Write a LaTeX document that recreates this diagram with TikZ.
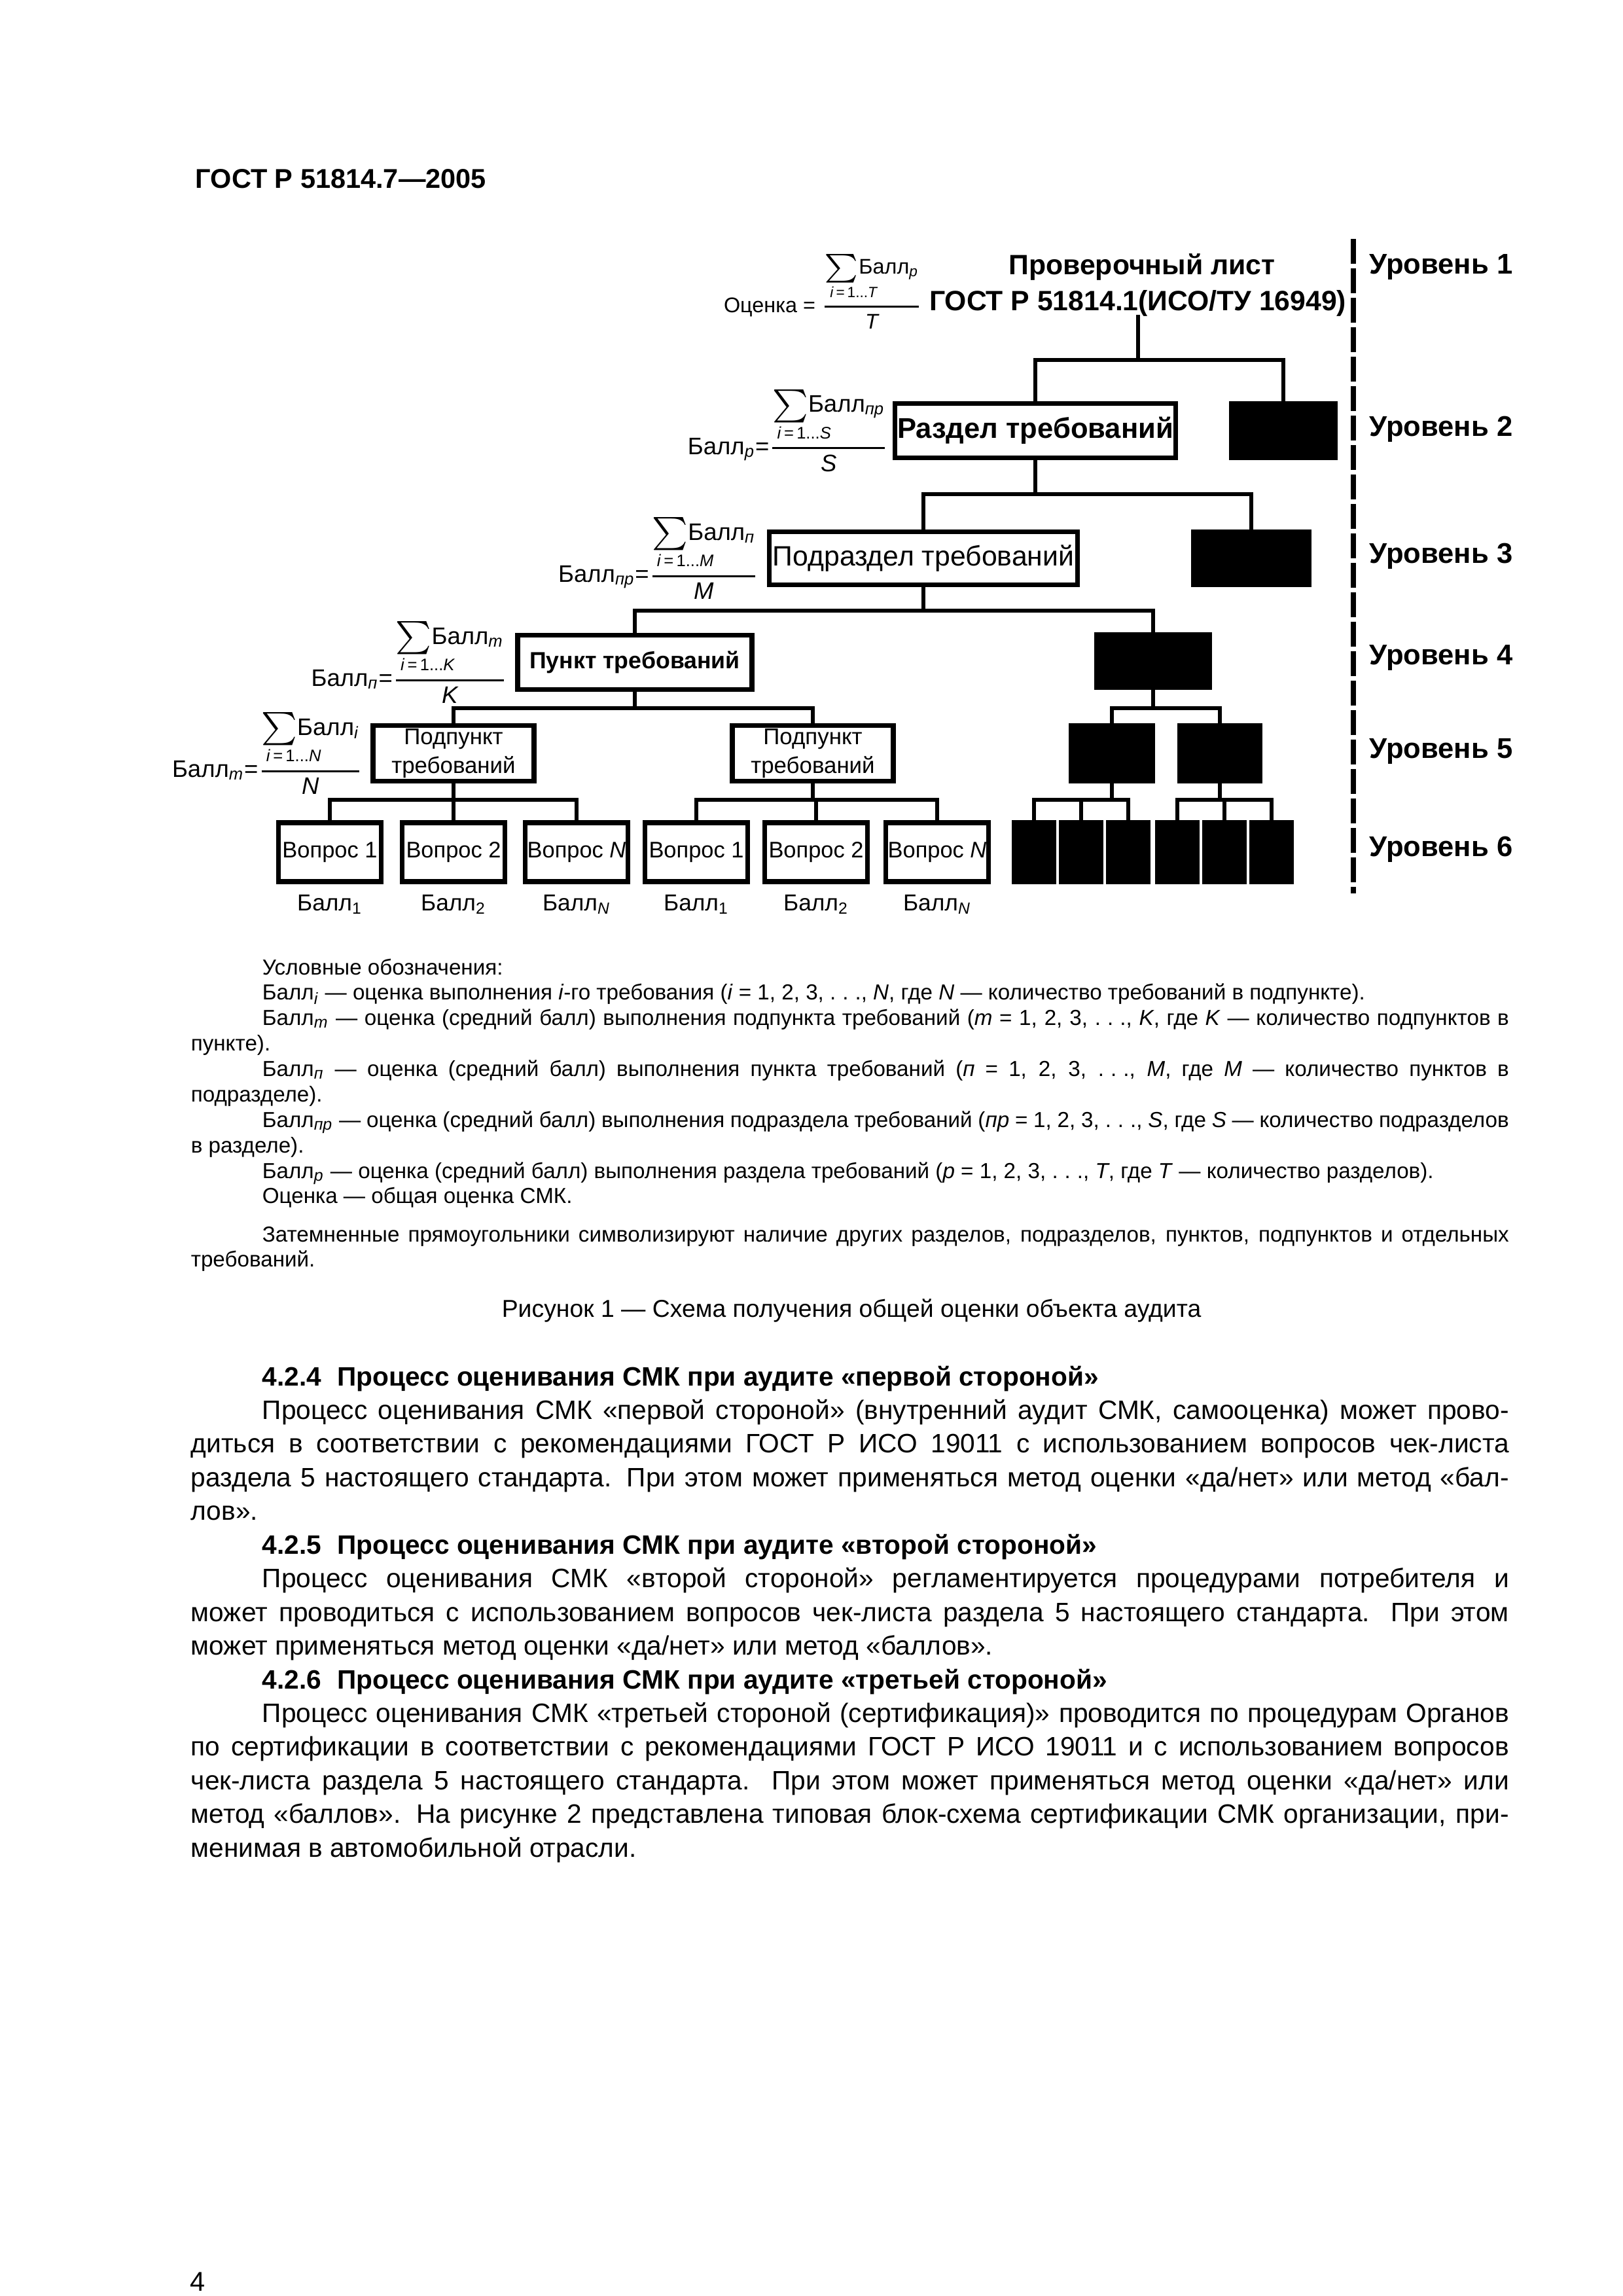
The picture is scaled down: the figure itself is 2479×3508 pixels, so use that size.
\documentclass[tikz,border=0pt]{standalone}
\usepackage{fontspec}
\setmainfont{Liberation Sans}
\usepackage{mathtools}
\usepackage{graphicx}
\usetikzlibrary{positioning}

\newlength\pxu
\setlength\pxu{0.08471mm}
\newlength\indw
\setlength\indw{109\pxu}
\hyphenpenalty=10000
\exhyphenpenalty=10000
\tolerance=9999

\newcommand{\ddd}{.\hspace{0.3em}.\hspace{0.3em}.}
\newcommand{\bigsig}{\mathop{\vcenter{\hbox{\scalebox{1.35}{$\textstyle\sum$}}}}}
% sum over i divided by count
\newcommand{\sumfrac}[3]{\(\genfrac{}{}{0.7pt}{0}{{\bigsig\limits_{\mathrlap{\hspace{-0.55em}\text{\itshape i\/\upshape\,=\,1...\itshape #2}}}}\text{Балл}_{\text{\itshape #1}}}{\text{\itshape #3}}\)}

\tikzset{
  lbl/.style={inner sep=0pt},
  hd/.style={inner sep=0pt, font=\fontsize{10.3}{12}\selectfont\bfseries},
  wbox/.style={rectangle, draw, line width=0.6mm, fill=white, align=center, inner sep=0pt},
  bbox/.style={rectangle, draw, fill=black, line width=0.6mm, inner sep=0pt},
  conn/.style={line width=0.5mm, line cap=rect},
  lvl/.style={anchor=west, inner sep=0pt, font=\fontsize{10.5}{12}\selectfont\bfseries},
  frm/.style={inner sep=0pt, font=\fontsize{8.8}{10.5}\selectfont},
  ball/.style={inner sep=0pt, font=\fontsize{8.5}{10}\selectfont},
  qbox/.style={wbox, minimum width=157\pxu, minimum height=90\pxu, font=\fontsize{8.3}{10}\selectfont},
  kbox/.style={bbox, minimum width=60\pxu, minimum height=90\pxu},
  dline/.style={line width=0.6mm, dash pattern=on 38\pxu off 7\pxu},
  txt/.style={anchor=base west, inner sep=0pt, text width=2014\pxu, align=justify},
}

\begin{document}
\begin{tikzpicture}[x=0.08471mm, y=-0.08471mm]
  \path[use as bounding box, fill=white] (0,0) rectangle (2479,3508);

  \node[lbl, anchor=west, font=\fontsize{10}{12}\selectfont\bfseries] (hdr) at (298,273) {ГОСТ Р 51814.7—2005};

  % tree
  \node[hd] (chk1) at (1745,408) {Проверочный лист};
  \node[hd, anchor=east] (chk2) at (2058,463) {ГОСТ Р 51814.1(ИСО/ТУ 16949)};
  \node[frm, font=\fontsize{7.8}{9}\selectfont, left=0.8mm of chk2, yshift=1.5mm] (f1) {Оценка = \sumfrac{р}{T}{T}};

  \node[wbox, minimum width=429\pxu, minimum height=83\pxu, font=\fontsize{10.5}{12}\selectfont\bfseries] (sec) at (1582,658) {Раздел требований};
  \node[bbox, minimum width=159\pxu, minimum height=83\pxu] (sec2) at (1961,658) {};
  \node[frm, left=0.5mm of sec] (f2) {\(\text{Балл}_{\text{\itshape р}}\)=\sumfrac{пр}{S}{S}};

  \node[wbox, minimum width=471\pxu, minimum height=81\pxu, font=\fontsize{10.3}{12}\selectfont] (sub) at (1411,853) {Подраздел требований};
  \node[bbox, minimum width=177\pxu, minimum height=81\pxu] (sub2) at (1912,853) {};
  \node[frm, left=1mm of sub] (f3) {\(\text{Балл}_{\text{\itshape пр}}\)=\sumfrac{п}{M}{M}};

  \node[wbox, minimum width=358\pxu, minimum height=83\pxu, font=\fontsize{8.6}{10}\selectfont\bfseries] (pnt) at (970,1012) {Пункт требований};
  \node[bbox, minimum width=173\pxu, minimum height=81\pxu] (pnt2) at (1762,1010) {};
  \node[frm, left=1mm of pnt] (f4) {\(\text{Балл}_{\text{\itshape п}}\)=\sumfrac{m}{K}{K}};

  \node[wbox, minimum width=246\pxu, minimum height=85\pxu, font=\fontsize{8.4}{10.5}\selectfont] (spa) at (693,1151) {Подпункт\\требований};
  \node[wbox, minimum width=246\pxu, minimum height=85\pxu, font=\fontsize{8.4}{10.5}\selectfont] (spb) at (1242,1151) {Подпункт\\требований};
  \node[bbox, minimum width=124\pxu, minimum height=85\pxu] (spc) at (1699,1151) {};
  \node[bbox, minimum width=123\pxu, minimum height=85\pxu] (spd) at (1864,1151) {};
  \node[frm, left=1mm of spa] (f5) {\(\text{Балл}_{\text{\itshape m}}\)=\sumfrac{i}{N}{N}};

  \node[qbox] (q1) at (504,1302) {Вопрос 1};
  \node[qbox] (q2) at (693,1302) {Вопрос 2};
  \node[qbox] (q3) at (881,1302) {Вопрос \textit{N}};
  \node[qbox] (q4) at (1064,1302) {Вопрос 1};
  \node[qbox] (q5) at (1247,1302) {Вопрос 2};
  \node[qbox] (q6) at (1432,1302) {Вопрос \textit{N}};
  \foreach \k/\x in {1/1580,2/1652,3/1724,4/1799,5/1871,6/1943}
    \node[kbox] (k\k) at (\x,1302) {};

  \node[ball, below=1.3mm of q1] (b1) {Балл\textsubscript{1}};
  \node[ball, below=1.3mm of q2] (b2) {Балл\textsubscript{2}};
  \node[ball, below=1.3mm of q3] (b3) {Балл\textsubscript{\itshape N}};
  \node[ball, below=1.3mm of q4] (b4) {Балл\textsubscript{1}};
  \node[ball, below=1.3mm of q5] (b5) {Балл\textsubscript{2}};
  \node[ball, below=1.3mm of q6] (b6) {Балл\textsubscript{\itshape N}};

  \coordinate (y1) at (0,550);
  \coordinate (y2) at (0,755);
  \coordinate (y3) at (0,933);
  \coordinate (y4) at (0,1082);
  \coordinate (y5) at (0,1222);

  \draw[conn] (chk2.south) -- (chk2.south |- y1);
  \draw[conn] (sec.north) |- (sec2.north |- y1) -- (sec2.north);
  \draw[conn] (sec.south) -- (sec.south |- y2);
  \draw[conn] (sub.north) |- (sub2.north |- y2) -- (sub2.north);
  \draw[conn] (sub.south) -- (sub.south |- y3);
  \draw[conn] (pnt.north) |- (pnt2.north |- y3) -- (pnt2.north);
  \draw[conn] (pnt.south) -- (pnt.south |- y4);
  \draw[conn] (spa.north) |- (spb.north |- y4) -- (spb.north);
  \draw[conn] (pnt2.south) -- (pnt2.south |- y4);
  \draw[conn] (spc.north) |- (spd.north |- y4) -- (spd.north);
  \foreach \p/\a/\b/\c in {spa/q1/q2/q3, spb/q4/q5/q6, spc/k1/k2/k3, spd/k4/k5/k6} {
    \draw[conn] (\p.south) -- (\p.south |- y5);
    \draw[conn] (\a.north) |- (\c.north |- y5) -- (\c.north);
    \draw[conn] (\b.north) -- (\b.north |- y5);
  }

  % levels
  \coordinate (dtop) at (2068,365);
  \coordinate (dbot) at (2068,1365);
  \draw[dline] (dtop) -- (dbot);
  \foreach \n/\y in {1/408,2/656,3/850,4/1005,5/1148,6/1298}
    \node[lvl] (lev\n) at (2092,\y) {Уровень \n};

  % legend
  \node[txt, font=\fontsize{8}{9.37}\selectfont] (leg) at (291,1489) {%
    \hspace*{\indw}Условные обозначения:\par
    \hspace*{\indw}Балл\textsubscript{\itshape i} — оценка выполнения \textit{i}-го требования (\textit{i} = 1, 2, 3, \ddd, \textit{N}, где \textit{N} — количество требований в подпункте).\par
    \hspace*{\indw}Балл\textsubscript{\itshape m} — оценка (средний балл) выполнения подпункта требований (\textit{m} = 1, 2, 3, \ddd, \textit{K}, где \textit{K} — количество подпунктов в\linebreak пункте).\par
    \hspace*{\indw}Балл\textsubscript{\itshape п} — оценка (средний балл) выполнения пункта требований (\textit{п} = 1, 2, 3, \ddd, \textit{M}, где \textit{M} — количество пунктов в\linebreak подразделе).\par
    \hspace*{\indw}Балл\textsubscript{\itshape пр} — оценка (средний балл) выполнения подраздела требований (\textit{пр} = 1, 2, 3, \ddd, \textit{S}, где \textit{S} — количество подразделов\linebreak в разделе).\par
    \hspace*{\indw}Балл\textsubscript{\itshape р} — оценка (средний балл) выполнения раздела требований (\textit{р} = 1, 2, 3, \ddd, \textit{T}, где \textit{T} — количество разделов).\par
    \hspace*{\indw}Оценка — общая оценка СМК.};
  \node[txt, font=\fontsize{8}{9.37}\selectfont] (shd) at (291,1897) {%
    \hspace*{\indw}Затемненные прямоугольники символизируют наличие других разделов, подразделов, пунктов, подпунктов и отдельных\linebreak требований.};
  \node[lbl, anchor=base, font=\fontsize{9}{11}\selectfont] (cap) at (1301,2012) {Рисунок 1 — Схема получения общей оценки объекта аудита};

  % body text
  \node[txt, font=\fontsize{9.8}{12.4}\selectfont] (body) at (291,2117) {%
    \hspace*{\indw}{\bfseries 4.2.4\hspace{0.6em}Процесс оценивания СМК при аудите «первой стороной»}\par
    \hspace*{\indw}Процесс оценивания СМК «первой стороной» (внутренний аудит СМК, самооценка) может прово-\linebreak диться в соответствии с рекомендациями ГОСТ Р ИСО 19011 с использованием вопросов чек-листа\linebreak раздела 5 настоящего стандарта. При этом может применяться метод оценки «да/нет» или метод «бал-\linebreak лов».\par
    \hspace*{\indw}{\bfseries 4.2.5\hspace{0.6em}Процесс оценивания СМК при аудите «второй стороной»}\par
    \hspace*{\indw}Процесс оценивания СМК «второй стороной» регламентируется процедурами потребителя и\linebreak может проводиться с использованием вопросов чек-листа раздела 5 настоящего стандарта. При этом\linebreak может применяться метод оценки «да/нет» или метод «баллов».\par
    \hspace*{\indw}{\bfseries 4.2.6\hspace{0.6em}Процесс оценивания СМК при аудите «третьей стороной»}\par
    \hspace*{\indw}Процесс оценивания СМК «третьей стороной (сертификация)» проводится по процедурам Органов\linebreak по сертификации в соответствии с рекомендациями ГОСТ Р ИСО 19011 и с использованием вопросов\linebreak чек-листа раздела 5 настоящего стандарта. При этом может применяться метод оценки «да/нет» или\linebreak метод «баллов». На рисунке 2 представлена типовая блок-схема сертификации СМК организации, при-\linebreak менимая в автомобильной отрасли.};

  \node[lbl, font=\fontsize{10}{12}\selectfont] (pg) at (302,3486) {4};
\end{tikzpicture}
\end{document}
